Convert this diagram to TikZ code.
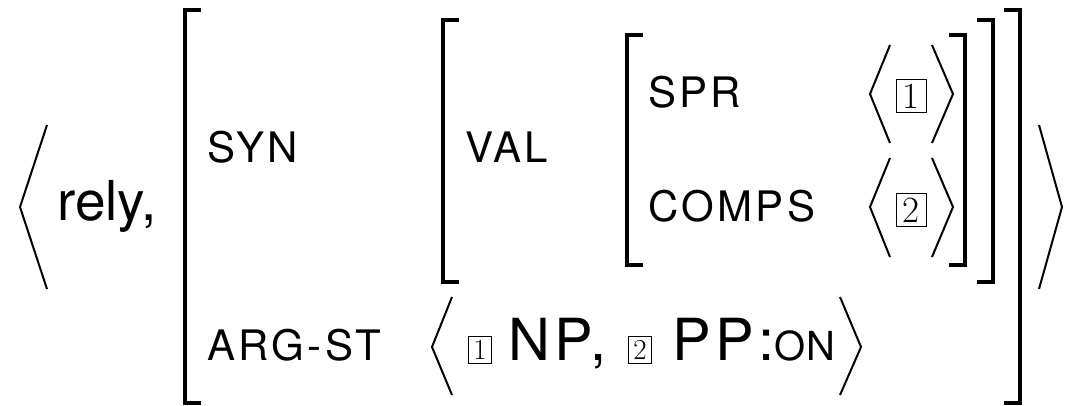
\documentclass[tikz,border=0pt]{standalone}
\usepackage{fontspec}
\usepackage{tikz}
\newfontfamily\heros[LetterSpace=8]{TeX Gyre Heros}
\newfontfamily\herosplain{TeX Gyre Heros}

\begin{document}
\begin{tikzpicture}[x=1pt,y=-1pt,
  feat/.style={anchor=base west, inner sep=0pt, font=\heros\fontsize{42}{48}\selectfont},
  word/.style={anchor=base west, inner sep=0pt, font=\herosplain\fontsize{55}{60}\selectfont},
  cat/.style={anchor=base west, inner sep=0pt, font=\heros\fontsize{58}{60}\selectfont},
  tagbox/.style={draw, line width=1pt, minimum width=30pt, minimum height=33pt,
       inner sep=0pt, font=\fontsize{37}{40}\selectfont},
  smalltag/.style={tagbox, minimum width=23pt, minimum height=27pt,
       font=\fontsize{29}{32}\selectfont},
  brack/.style={line width=4pt},
  angl/.style={line width=2pt}]

\useasboundingbox (0,0) rectangle (1070,406);

% outer list
\draw[angl] (47,125) -- (20,207) -- (47,289);
\draw[angl] (1039,125) -- (1062,207) -- (1039,289);
\draw (57,220) node [word] (rely) {rely,};

% outer matrix
\draw[brack] (201,10) -- (185,10) -- (185,403) -- (201,403);
\draw[brack] (1004,10) -- (1020,10) -- (1020,403) -- (1004,403);
\draw (207,163) node [feat] (syn) {SYN};
\draw (207,360) node [feat] (argst) {ARG-ST};

% SYN value
\draw[brack] (459,20) -- (443,20) -- (443,282) -- (459,282);
\draw[brack] (977,20) -- (993,20) -- (993,282) -- (977,282);
\draw (465,163) node [feat] (val) {VAL};

% VAL value
\draw[brack] (643,35) -- (627,35) -- (627,265) -- (643,265);
\draw[brack] (949,35) -- (965,35) -- (965,265) -- (949,265);
\draw (648,108) node [feat] (spr) {SPR};
\draw (648,222) node [feat] (comps) {COMPS};

\draw[angl] (890,45) -- (870,94) -- (890,143);
\draw[angl] (932,45) -- (953,94) -- (932,143);
\draw (911,96) node [tagbox] (sprtag) {1};
\draw[angl] (890,158) -- (870,207) -- (890,257);
\draw[angl] (932,158) -- (953,207) -- (932,257);
\draw (911,210) node [tagbox] (compstag) {2};

% ARG-ST value
\draw[angl] (452,297) -- (432,347) -- (452,395);
\draw[angl] (840,297) -- (861,347) -- (840,395);
\draw (480,350) node [smalltag] (argone) {1};
\draw (508,360) node [cat] (np) {NP,};
\draw (640,350) node [smalltag] (argtwo) {2};
\draw (672,360) node [cat] (pp) {PP:{\herosplain\fontsize{40}{40}\selectfont ON}};
\end{tikzpicture}
\end{document}
